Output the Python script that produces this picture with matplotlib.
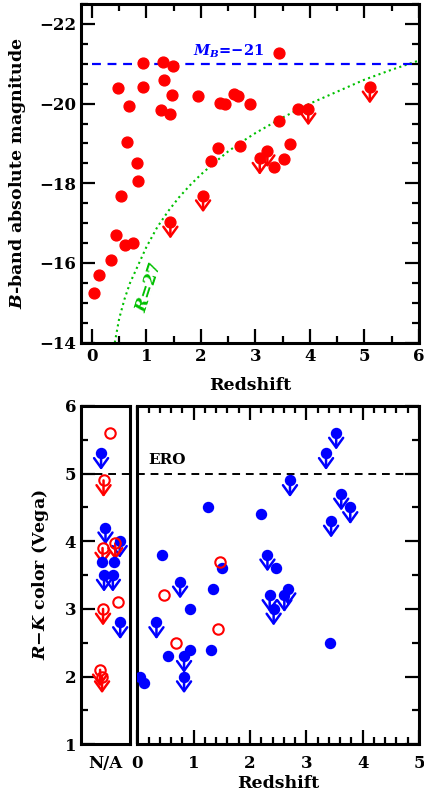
import numpy as np
import matplotlib
matplotlib.use("Agg")
import matplotlib.pyplot as plt
from matplotlib.ticker import MultipleLocator

plt.rcParams['font.family'] = 'DejaVu Serif'
plt.rcParams['font.weight'] = 'bold'
plt.rcParams['axes.labelweight'] = 'bold'
plt.rcParams['mathtext.fontset'] = 'custom'
plt.rcParams['mathtext.it'] = 'DejaVu Serif:italic:bold'
plt.rcParams['mathtext.rm'] = 'DejaVu Serif:bold'

# top panel: B-band absolute magnitude vs redshift
z_det = [0.04, 0.13, 0.35, 0.45, 0.47, 0.54, 0.60, 0.65, 0.68, 0.76, 0.82, 0.84,
         0.93, 0.93, 1.26, 1.31, 1.33, 1.43, 1.47, 1.49, 1.95, 2.19, 2.31, 2.35,
         2.45, 2.61, 2.68, 2.71, 2.90, 3.34, 3.43, 3.44, 3.53, 3.63, 3.78]
mag_det = [-15.24, -15.71, -16.08, -16.70, -20.39, -17.68, -16.46, -19.03, -19.93,
           -16.49, -18.52, -18.06, -21.01, -20.42, -19.85, -21.04, -20.59, -19.75,
           -20.22, -20.95, -20.18, -18.56, -18.88, -20.01, -19.99, -20.25, -20.20,
           -18.94, -19.99, -18.40, -21.26, -19.57, -18.62, -18.99, -19.87]
z_lim = [1.44, 2.04, 3.08, 3.22, 3.97, 5.10]
mag_lim = [-17.03, -17.69, -18.63, -18.82, -19.87, -20.42]

# R=27 limit curve
z_r27 = [0.42, 0.5, 0.6, 0.7, 0.8, 0.9, 1.0, 1.2, 1.4, 1.6, 1.8, 2.0, 2.25, 2.5,
         2.75, 3.0, 3.5, 4.0, 4.5, 5.0, 5.5, 6.0]
mag_r27 = [-14.0, -14.6, -15.1, -15.5, -15.8, -16.1, -16.4, -16.9, -17.3, -17.65,
           -17.95, -18.22, -18.52, -18.8, -19.04, -19.26, -19.65, -20.0, -20.3,
           -20.6, -20.85, -21.08]

# bottom panel: R-K colour vs redshift
bz_det = [0.04, 0.12, 0.44, 0.54, 0.94, 0.94, 1.26, 1.31, 1.34, 1.50, 2.20, 2.46, 3.42]
brk_det = [2.0, 1.9, 3.8, 2.3, 3.0, 2.4, 4.5, 2.4, 3.3, 3.6, 4.4, 3.6, 2.5]
bz_lim = [0.34, 0.76, 0.83, 0.83, 2.31, 2.35, 2.42, 2.61, 2.68, 2.71, 3.35, 3.44,
          3.53, 3.62, 3.78]
brk_lim = [2.8, 3.4, 2.3, 2.0, 3.8, 3.2, 3.0, 3.2, 3.3, 4.9, 5.3, 4.3, 5.6, 4.7, 4.5]
rz_det = [0.47, 0.68, 1.43, 1.47]
rrk_det = [3.2, 2.5, 2.7, 3.7]

# no redshift (N/A) column, x is only a spread within the box
na_bx_det = [0.43, 0.67]
na_brk_det = [3.7, 3.7]
na_bx_lim = [0.41, 0.50, 0.79, 0.47, 0.65, 0.80]
na_brk_lim = [5.3, 4.2, 4.0, 3.5, 3.5, 2.8]
na_rx_det = [0.60, 0.76]
na_rrk_det = [5.6, 3.1]
na_rx_lim = [0.46, 0.44, 0.70, 0.45, 0.39, 0.43]
na_rrk_lim = [4.9, 3.9, 3.97, 3.0, 2.1, 2.0]

RED = '#ff0000'
BLUE = '#0000ff'
GREEN = '#00c000'


def arrows(ax, xs, ys, color):
    for x, y in zip(xs, ys):
        ax.annotate('', xy=(x, y), xytext=(0, -12), textcoords='offset points',
                    arrowprops=dict(arrowstyle='<-, head_width=0.36, head_length=0.5',
                                    color=color, lw=1.8, shrinkA=0, shrinkB=0,
                                    mutation_scale=14), zorder=2)


def style(ax):
    for s in ax.spines.values():
        s.set_linewidth(2.2)
    ax.tick_params(which='both', direction='in', width=1.6, labelsize=12)
    ax.tick_params(which='major', length=10)
    ax.tick_params(which='minor', length=5)


fig = plt.figure(figsize=(4.24, 7.96), dpi=100)

# ---- top panel
ax1 = fig.add_axes([0.191, 0.5695, 0.797, 0.4255])
ax1.plot(z_det, mag_det, 'o', color=RED, ms=7.8, mec=RED, zorder=3)
ax1.plot(z_lim, mag_lim, 'o', color=RED, ms=7.8, mec=RED, zorder=3)
arrows(ax1, z_lim, mag_lim, RED)
ax1.plot(z_r27, mag_r27, ':', color=GREEN, lw=1.5)
ax1.plot([0, 6], [-21, -21], '--', color=BLUE, lw=1.6, dashes=(4, 3))
ax1.text(2.5, -21.3, r'$M_B$=$-$21', color=BLUE, ha='center', va='center',
         fontsize=10.5)
ax1.text(1.05, -15.4, r'$R$=27', color=GREEN, rotation=72, ha='center',
         va='center', fontsize=12)
ax1.set_xlim(-0.2, 6)
ax1.set_ylim(-14, -22.5)
ax1.xaxis.set_major_locator(MultipleLocator(1))
ax1.xaxis.set_minor_locator(MultipleLocator(0.5))
ax1.yaxis.set_major_locator(MultipleLocator(2))
ax1.yaxis.set_minor_locator(MultipleLocator(0.5))
ax1.tick_params(which='both', top=True, right=True)
style(ax1)
ax1.set_xlabel('Redshift', fontsize=12.5, labelpad=9)
ax1.set_ylabel(r'$B$-band absolute magnitude', fontsize=12.5, labelpad=8)

# ---- bottom N/A panel
ax2 = fig.add_axes([0.191, 0.065, 0.1156, 0.425])
ax2.axhline(5, color='k', ls='--', lw=1.4, dashes=(4, 3))
ax2.plot(na_bx_det, na_brk_det, 'o', color=BLUE, ms=7.2, zorder=3)
ax2.plot(na_bx_lim, na_brk_lim, 'o', color=BLUE, ms=7.2, zorder=3)
arrows(ax2, na_bx_lim, na_brk_lim, BLUE)
ax2.plot(na_rx_det, na_rrk_det, 'o', mfc='none', mec=RED, mew=1.5, ms=7.5, zorder=3)
ax2.plot(na_rx_lim, na_rrk_lim, 'o', mfc='none', mec=RED, mew=1.5, ms=7.5, zorder=3)
arrows(ax2, na_rx_lim, na_rrk_lim, RED)
ax2.set_xlim(0, 1)
ax2.set_ylim(1, 6)
ax2.yaxis.set_major_locator(MultipleLocator(1))
ax2.yaxis.set_minor_locator(MultipleLocator(0.5))
ax2.set_xticks([0.5])
ax2.set_xticklabels(['N/A'])
style(ax2)
ax2.tick_params(axis='x', length=0, pad=8)
ax2.set_ylabel(r'$R$$-$$K$ color (Vega)', fontsize=12.5, labelpad=10)

# ---- bottom main panel
ax3 = fig.add_axes([0.3238, 0.065, 0.6644, 0.425])
ax3.axhline(5, color='k', ls='--', lw=1.4, dashes=(4, 3))
ax3.text(0.53, 5.2, 'ERO', fontsize=11, ha='center', va='center')
ax3.plot(bz_det, brk_det, 'o', color=BLUE, ms=7.2, zorder=3)
ax3.plot(bz_lim, brk_lim, 'o', color=BLUE, ms=7.2, zorder=3)
arrows(ax3, bz_lim, brk_lim, BLUE)
ax3.plot(rz_det, rrk_det, 'o', mfc='none', mec=RED, mew=1.5, ms=7.5, zorder=3)
ax3.set_xlim(0, 5)
ax3.set_ylim(1, 6)
ax3.xaxis.set_major_locator(MultipleLocator(1))
ax3.xaxis.set_minor_locator(MultipleLocator(0.2))
ax3.yaxis.set_major_locator(MultipleLocator(1))
ax3.yaxis.set_minor_locator(MultipleLocator(0.5))
style(ax3)
ax3.tick_params(which='both', top=True, right=True, left=False, labelleft=False)
ax3.tick_params(axis='x', pad=8)
ax3.set_xlabel('Redshift', fontsize=12.5, labelpad=2)

fig.savefig('out.png', dpi=100)
